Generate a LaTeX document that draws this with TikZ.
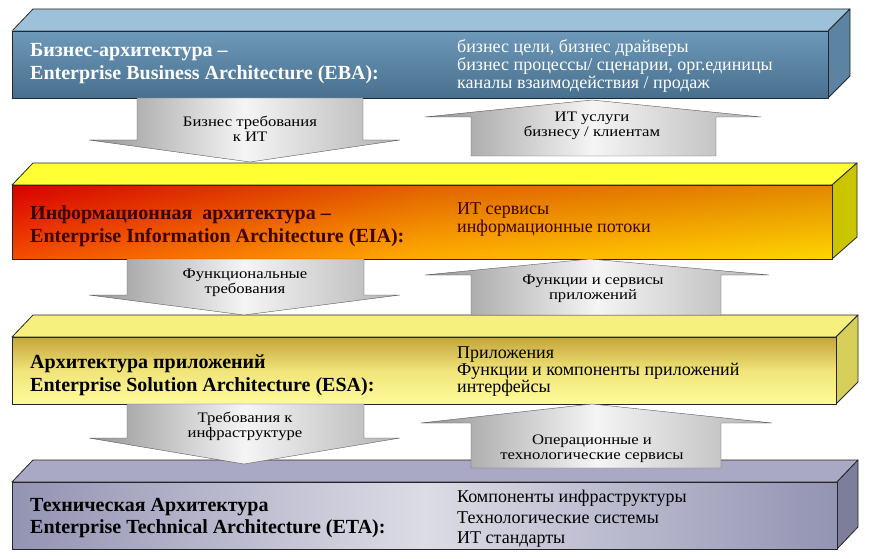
\documentclass[tikz,border=0pt]{standalone}
\usepackage{fontspec}
\setmainfont{Liberation Serif}
\newfontfamily\arrowfont[FakeStretch=1.15]{Liberation Serif}

\definecolor{ebaTop}{HTML}{9DC1D8}
\definecolor{ebaSide}{HTML}{5C84A2}
\definecolor{ebaHi}{HTML}{6E99B9}
\definecolor{ebaLo}{HTML}{486F8E}
\definecolor{eiaTop}{HTML}{FFFF33}
\definecolor{eiaSide}{HTML}{C9C600}
\definecolor{eiaRed}{HTML}{F00000}
\definecolor{eiaOrange}{HTML}{FF8C00}
\definecolor{eiaGold}{HTML}{FFC400}
\definecolor{eiaDark}{HTML}{A00000}
\definecolor{esaTop}{HTML}{F6F07E}
\definecolor{esaSide}{HTML}{D6D05A}
\definecolor{esaHi}{HTML}{C4A43A}
\definecolor{esaMid}{HTML}{F0E47A}
\definecolor{esaLo}{HTML}{FFFB9A}
\definecolor{etaTop}{HTML}{A9A9C6}
\definecolor{etaSide}{HTML}{7D7D9C}
\definecolor{etaEdge}{HTML}{9393B3}
\definecolor{etaMid}{HTML}{DCDCE6}
\definecolor{eiaInk}{HTML}{3C0000}

% slab: xL, yT, xR, yB, depth, top colour, side colour
\newcommand{\slab}[7]{%
  \filldraw[edge, fill=#6] (#1,#2) -- ({#1+21},{#2-22}) -- ({#3+#5},{#2-22}) -- (#3,#2) -- cycle;
  \filldraw[edge, fill=#7] (#3,#2) -- ({#3+#5},{#2-22}) -- ({#3+#5},{#4-22}) -- (#3,#4) -- cycle;
}
% block arrow: tip x, tail y, head base y, tip y, shaft left, shaft right, wing left, wing right
\newcommand{\blockarr}[8]{%
  \draw[arrbody] (#5,#2) -- (#6,#2) -- (#6,#3) -- (#8,#3) -- (#1,#4) -- (#7,#3) -- (#5,#3) -- cycle;
}

\begin{document}
\begin{tikzpicture}[x=1pt, y=-1pt,
    edge/.style={draw=black!85, line join=round, line width=0.8pt},
    title/.style={anchor=north west, align=left, inner sep=0pt, font=\fontsize{20}{23}\selectfont\bfseries},
    items/.style={anchor=north west, align=left, inner sep=0pt, font=\fontsize{18}{18}\selectfont},
    arrlabel/.style={align=center, inner sep=0pt, font=\arrowfont\fontsize{14.5}{15}\selectfont},
    arrbody/.style={draw=black!65, line join=round, left color=black!42, right color=black!30, middle color=black!4}]

    \fill[white] (0,0) rectangle (870,559);
    \useasboundingbox (0,0) rectangle (870,559);

    % Business layer
    \slab{12}{31}{828}{98}{22}{ebaTop}{ebaSide}
    \shade[top color=ebaHi, bottom color=ebaLo] (12,31) rectangle (828,98);
    \draw[edge] (12,31) rectangle (828,98);
    \node[title, text=white] (ebaname) at (30,43) {Бизнес-архитектура –\\Enterprise Business Architecture (EBA):};
    \node[items, text=white] (ebalist) at (457,39) {бизнес цели, бизнес драйверы\\бизнес процессы/ сценарии, орг.единицы\\каналы взаимодействия / продаж};

    % Information layer
    \slab{12}{185}{832}{259}{25}{eiaTop}{eiaSide}
    \shade[left color=eiaRed, right color=eiaGold, middle color=eiaOrange] (12,185) rectangle (832,259);
    \shade[top color=eiaDark, bottom color=yellow, opacity=0.3] (12,185) rectangle (832,259);
    \draw[edge] (12,185) rectangle (832,259);
    \node[title, text=eiaInk] (eianame) at (30,205) {Информационная\ \ архитектура –\\Enterprise Information Architecture (EIA):};
    \node[items, text=eiaInk] (eialist) at (457,203) {ИТ сервисы\\информационные потоки};

    % Solution layer
    \slab{12}{337}{836}{404}{22}{esaTop}{esaSide}
    \shade[top color=esaHi, bottom color=esaLo, middle color=esaMid] (12,337) rectangle (836,404);
    \draw[edge] (12,337) rectangle (836,404);
    \node[title] (esaname) at (30,355) {Архитектура приложений\\Enterprise Solution Architecture (ESA):};
    \node[items, font=\fontsize{18}{17}\selectfont] (esalist) at (457,347) {Приложения\\Функции и компоненты приложений\\интерфейсы};

    % Technical layer
    \slab{12}{482}{837}{549}{21}{etaTop}{etaSide}
    \shade[left color=etaEdge, right color=etaEdge, middle color=etaMid] (12,482) rectangle (837,549);
    \draw[edge] (12,482) rectangle (837,549);
    \node[title, font=\fontsize{20}{22}\selectfont\bfseries] (etaname) at (30,498) {Техническая Архитектура\\Enterprise Technical Architecture (ETA):};
    \node[items, font=\fontsize{18}{20.5}\selectfont] (etalist) at (457,490) {Компоненты инфраструктуры\\Технологические системы\\ИТ стандарты};

    % Arrows between layers
    \blockarr{250}{98}{140}{162}{137}{363}{89}{400}
    \blockarr{592}{156}{117}{100}{471}{716}{425}{761}
    \blockarr{244}{259}{295}{315}{127}{364}{89}{400}
    \blockarr{590}{315}{275}{259}{471}{721}{425}{769}
    \blockarr{244}{404}{438}{464}{127}{364}{89}{400}
    \blockarr{592}{468}{423}{404}{471}{721}{421}{772}

    % Arrow labels
    \node[arrlabel] (bizreq) at (250,129) {Бизнес требования\\к ИТ};
    \node[arrlabel] (itserv) at (592,126) {ИТ услуги\\бизнесу / клиентам};
    \node[arrlabel] (funcreq) at (245,283) {Функциональные\\требования};
    \node[arrlabel] (appserv) at (593,289) {Функции и сервисы\\приложений};
    \node[arrlabel] (infreq) at (245,426) {Требования к\\инфраструктуре};
    \node[arrlabel] (opserv) at (592,449) {Операционные и\\технологические сервисы};
\end{tikzpicture}
\end{document}
